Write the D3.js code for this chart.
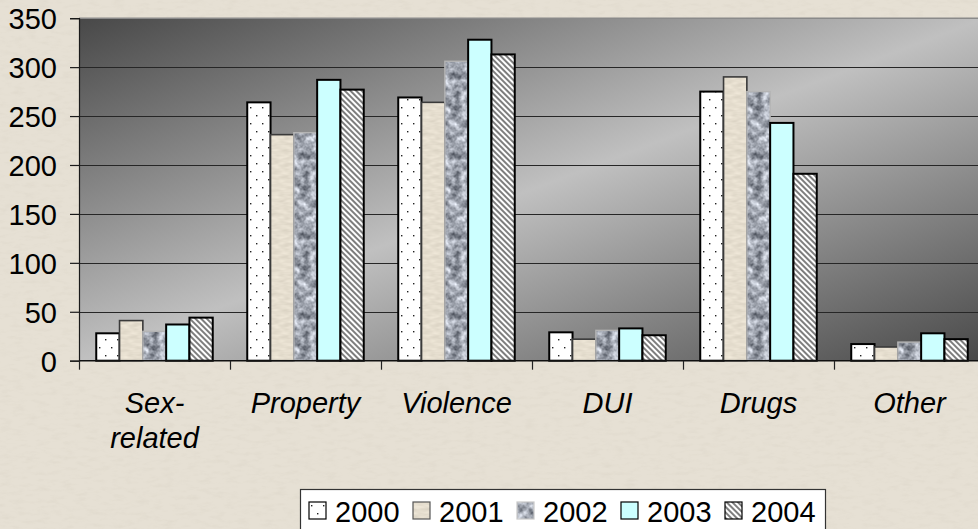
<!DOCTYPE html>
<html>
<head>
<meta charset="utf-8">
<script src="https://cdn.jsdelivr.net/npm/d3@7"></script>
<style>
  html, body { margin: 0; padding: 0; background: #e5dfd3; overflow: hidden; }
  svg { display: block; font-family: "Liberation Sans", Arial, sans-serif; }
</style>
</head>
<body>
<svg id="chart" width="978" height="529"></svg>
<script>
// ---- data ----
const categories = ["Sex-related", "Property", "Violence", "DUI", "Drugs", "Other"];
const categoryLines = [["Sex-", "related"], ["Property"], ["Violence"], ["DUI"], ["Drugs"], ["Other"]];
const years = ["2000", "2001", "2002", "2003", "2004"];
const values2000 = [28, 264, 269, 29, 275, 17];
const values2001 = [41, 231, 264, 22, 290, 14];
const values2002 = [30, 233, 306, 31, 275, 19];
const values2003 = [37, 287, 328, 33, 243, 28];
const values2004 = [44, 277, 313, 26, 191, 22];
const seriesValues = [values2000, values2001, values2002, values2003, values2004];
const yTicks = [0, 50, 100, 150, 200, 250, 300, 350];

(function () {
const svg = d3.select("#chart");
const defs = svg.append("defs");

// background texture
const bgF = defs.append("filter").attr("id", "paper").attr("x", 0).attr("y", 0).attr("width", 1).attr("height", 1)
  .attr("color-interpolation-filters", "sRGB");
bgF.append("feTurbulence").attr("type", "fractalNoise").attr("baseFrequency", "0.08 0.25").attr("numOctaves", 3).attr("seed", 4);
bgF.append("feColorMatrix").attr("type", "matrix")
  .attr("values", "0 0 0 0 0.72  0 0 0 0 0.69  0 0 0 0 0.62  1.2 0 0 0 -0.55");
svg.append("rect").attr("width", 978).attr("height", 529).attr("fill", "#e6e0d4");
svg.append("rect").attr("width", 978).attr("height", 529).attr("filter", "url(#paper)").attr("opacity", 0.2);

// plot gradient
const grad = defs.append("linearGradient").attr("id", "plotGrad")
  .attr("x1", 0).attr("y1", 0).attr("x2", 1).attr("y2", 1);
grad.append("stop").attr("offset", 0).attr("stop-color", "#484848");
grad.append("stop").attr("offset", 0.5).attr("stop-color", "#c0c0c0");
grad.append("stop").attr("offset", 1).attr("stop-color", "#484848");

// patterns
const pDots = defs.append("pattern").attr("id", "pDots").attr("patternUnits", "userSpaceOnUse")
  .attr("width", 12).attr("height", 16);
pDots.append("rect").attr("width", 12).attr("height", 16).attr("fill", "#ffffff");
pDots.append("rect").attr("x", 2).attr("y", 3).attr("width", 1.4).attr("height", 1.4).attr("fill", "#222");
pDots.append("rect").attr("x", 8).attr("y", 11).attr("width", 1.4).attr("height", 1.4).attr("fill", "#222");

const pStripe = defs.append("pattern").attr("id", "pStripe").attr("patternUnits", "userSpaceOnUse")
  .attr("width", 4).attr("height", 4).attr("patternTransform", "rotate(-45)");
pStripe.append("rect").attr("width", 4).attr("height", 4).attr("fill", "#ffffff");
pStripe.append("rect").attr("width", 2).attr("height", 4).attr("fill", "#7e7e7e");

const grF = defs.append("filter").attr("id", "granite").attr("x", 0).attr("y", 0).attr("width", 1).attr("height", 1)
  .attr("color-interpolation-filters", "sRGB");
grF.append("feTurbulence").attr("type", "fractalNoise").attr("baseFrequency", 0.125).attr("numOctaves", 3)
  .attr("seed", 7).attr("stitchTiles", "stitch");
grF.append("feColorMatrix").attr("type", "matrix")
  .attr("values", "1.0 0 0 0 0.12  1.0 0 0 0 0.14  1.0 0 0 0 0.18  0 0 0 0 1");
const pGran = defs.append("pattern").attr("id", "pGranite").attr("patternUnits", "userSpaceOnUse")
  .attr("width", 80).attr("height", 80);
pGran.append("rect").attr("width", 80).attr("height", 80).attr("filter", "url(#granite)");

const beigeF = defs.append("filter").attr("id", "beigeTex").attr("x", 0).attr("y", 0).attr("width", 1).attr("height", 1)
  .attr("color-interpolation-filters", "sRGB");
beigeF.append("feTurbulence").attr("type", "fractalNoise").attr("baseFrequency", "0.1 0.3").attr("numOctaves", 2)
  .attr("seed", 2).attr("stitchTiles", "stitch");
beigeF.append("feColorMatrix").attr("type", "matrix")
  .attr("values", "0.12 0 0 0 0.84  0.12 0 0 0 0.81  0.12 0 0 0 0.75  0 0 0 0 1");
const pBeige = defs.append("pattern").attr("id", "pBeige").attr("patternUnits", "userSpaceOnUse")
  .attr("width", 80).attr("height", 80);
pBeige.append("rect").attr("width", 80).attr("height", 80).attr("filter", "url(#beigeTex)");

const fills = ["url(#pDots)", "url(#pBeige)", "url(#pGranite)", "#ccffff", "url(#pStripe)"];
const strokes = ["#000", "#3a3a3a", "#b4b4b4", "#000", "#000"];
const strokeW = [2, 1.6, 1.4, 2, 2];

// scales
const plotLeft = 79, plotTop = 18.2, plotBottom = 360.7, step = 151;
const x0 = d3.scaleBand().domain(categories).range([plotLeft, plotLeft + step * categories.length]).paddingInner(0).paddingOuter(0);
const x1 = d3.scaleBand().domain(years).range([0, x0.bandwidth()]).paddingInner(0).paddingOuter(0.74);
const y = d3.scaleLinear().domain([0, 350]).range([plotBottom, plotTop]);

// plot background
const plotW = x0.range()[1] - plotLeft;
svg.append("rect").attr("x", plotLeft).attr("y", plotTop).attr("width", plotW).attr("height", plotBottom - plotTop)
  .attr("fill", "url(#plotGrad)");
svg.append("line").attr("x1", plotLeft).attr("x2", plotLeft + plotW).attr("y1", plotTop).attr("y2", plotTop)
  .attr("stroke", "#8a8a8a").attr("stroke-width", 1.5);

// gridlines
svg.append("g").selectAll("line").data(yTicks.filter(d => d > 0 && d < 350)).join("line")
  .attr("x1", plotLeft).attr("x2", plotLeft + plotW)
  .attr("y1", d => Math.round(y(d)) + 0.5).attr("y2", d => Math.round(y(d)) + 0.5)
  .attr("stroke", "#262626").attr("stroke-width", 1.2);

// bars
const rows = categories.map((c, i) => years.map((yr, j) => ({ c, yr, j, v: seriesValues[j][i] })));
svg.append("g").selectAll("g").data(rows).join("g")
  .attr("transform", d => `translate(${x0(d[0].c)},0)`)
  .selectAll("rect").data(d => d).join("rect")
  .attr("x", d => x1(d.yr))
  .attr("y", d => y(d.v))
  .attr("width", x1.bandwidth())
  .attr("height", d => y(0) - y(d.v))
  .attr("fill", d => fills[d.j])
  .attr("stroke", d => strokes[d.j])
  .attr("stroke-width", d => strokeW[d.j]);

// y axis
const yAxis = d3.axisLeft(y).tickValues(yTicks).tickSize(9).tickPadding(13);
const ya = svg.append("g").attr("transform", `translate(${plotLeft},0)`).call(yAxis);
ya.select(".domain").attr("stroke", "#1a1a1a").attr("stroke-width", 1.2);
ya.selectAll(".tick line").attr("stroke", "#1a1a1a").attr("stroke-width", 1.2);
ya.selectAll(".tick text").attr("font-size", 29).attr("fill", "#000")
  .attr("font-family", "'Liberation Sans', Arial, sans-serif").attr("dy", "0.36em");

// x axis baseline and ticks
svg.append("line").attr("x1", plotLeft).attr("x2", plotLeft + plotW).attr("y1", plotBottom).attr("y2", plotBottom)
  .attr("stroke", "#111").attr("stroke-width", 1.4);
const bounds = categories.map(c => x0(c)).concat([x0.range()[1]]);
svg.append("g").selectAll("line").data(bounds).join("line")
  .attr("x1", d => d + 0.5).attr("x2", d => d + 0.5).attr("y1", plotBottom).attr("y2", plotBottom + 9)
  .attr("stroke", "#222").attr("stroke-width", 1.2);

// category labels
svg.append("g").selectAll("text").data(categories).join("text")
  .attr("x", d => x0(d) + x0.bandwidth() / 2)
  .attr("y", 413)
  .attr("text-anchor", "middle")
  .attr("font-size", 29).attr("font-style", "italic").attr("fill", "#000")
  .each(function (d, i) {
    const t = d3.select(this);
    categoryLines[i].forEach((ln, k) => {
      t.append("tspan").attr("x", x0(d) + x0.bandwidth() / 2).attr("dy", k === 0 ? 0 : 35).text(ln);
    });
  });

// legend
const lg = svg.append("g");
lg.append("rect").attr("x", 300.5).attr("y", 489.5).attr("width", 525).attr("height", 60)
  .attr("fill", "#fff").attr("stroke", "#333").attr("stroke-width", 1.2);
const legendX = d3.scalePoint().domain(years).range([309, 725]);
const li = lg.selectAll("g").data(years).join("g")
  .attr("transform", d => `translate(${legendX(d)},502)`);
li.append("rect").attr("width", 17).attr("height", 17)
  .attr("fill", (d, i) => fills[i]).attr("stroke", (d, i) => i === 2 ? "#c8c8c8" : (i === 1 ? "#555" : "#000"))
  .attr("stroke-width", 1.2);
li.append("text").attr("x", 26).attr("y", 19.5).attr("font-size", 29).attr("fill", "#000").text(d => d);
})();
</script>
</body>
</html>
